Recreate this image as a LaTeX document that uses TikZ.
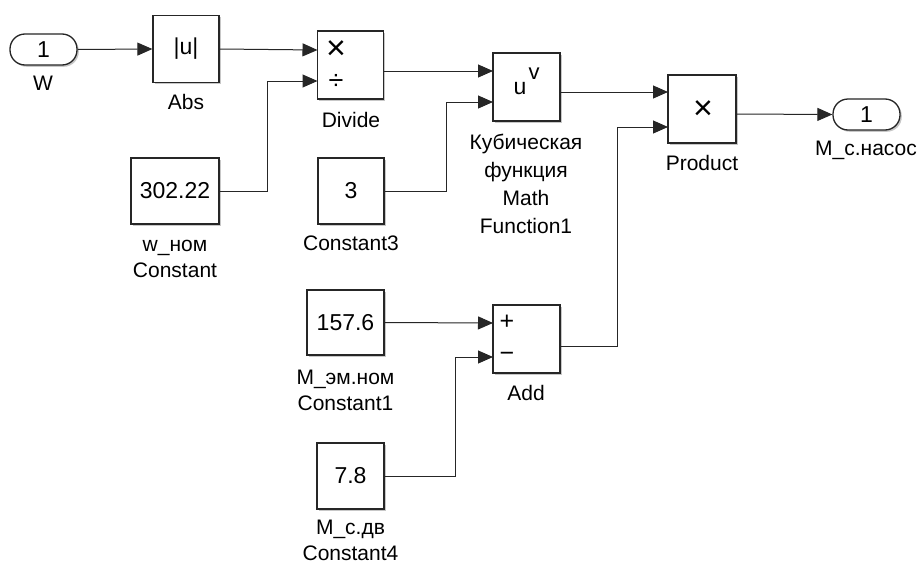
\documentclass[tikz,border=0pt]{standalone}
\usepackage{fontspec}
\setmainfont{Liberation Sans}
\usetikzlibrary{arrows.meta,shadows}
\begin{document}
\begin{tikzpicture}[x=1pt,y=-1pt,
  blk/.style={draw=black!85,line width=1.3pt,fill=white,inner sep=0pt,rectangle,
    drop shadow={shadow xshift=1.8pt,shadow yshift=-1.8pt,fill=black,opacity=0.22}},
  portblk/.style={blk,rounded corners=15pt,minimum width=67pt,minimum height=31pt},
  lbl/.style={font=\fontsize{21}{26}\selectfont,align=center,inner sep=0pt},
  val/.style={font=\fontsize{23}{26}\selectfont,inner sep=0pt},
  sym/.style={font=\fontsize{34}{36}\selectfont,inner sep=0pt},
  wire/.style={draw=black!85,line width=1pt},
  arr/.style={wire,-{Triangle[length=15pt,width=13pt]}}]
\useasboundingbox[fill=white] (0,0) rectangle (921,565);

% ---- blocks ----
\node[portblk,val] (in1) at (43.5,49.5) {1};
\node[blk,val,minimum width=66pt,minimum height=67pt] (abs) at (186,49) {|u|};
\node[blk,minimum width=66pt,minimum height=68pt] (div) at (350.5,65) {};
\node[blk,minimum width=67pt,minimum height=68pt] (mf) at (526.5,87) {};
\node[blk,minimum width=68pt,minimum height=68pt] (prod) at (702,109) {};
\node[portblk,val] (out1) at (866.5,114.5) {1};
\node[blk,val,minimum width=88pt,minimum height=66pt] (c302) at (175,191) {302.22};
\node[blk,val,minimum width=66pt,minimum height=66pt] (c3) at (351,191) {3};
\node[blk,val,minimum width=77pt,minimum height=65pt] (c157) at (345.5,322.5) {157.6};
\node[blk,minimum width=67pt,minimum height=68pt] (add) at (526.5,339) {};
\node[blk,val,minimum width=67pt,minimum height=66pt] (c78) at (350.5,476) {7.8};

% ---- block glyphs ----
\node[sym] (divx) at (336,50) {×};
\node[font=\fontsize{27}{30}\selectfont,inner sep=0pt] (divd) at (336,82) {÷};
\node[sym] (prodx) at (703,110) {×};
\node[val] (mfu) at (520,89) {u};
\node[font=\fontsize{22}{24}\selectfont,inner sep=0pt] (mfv) at (534,74) {v};
\node[font=\fontsize{25}{26}\selectfont,inner sep=0pt] (addp) at (507,322) {+};
\node[font=\fontsize{25}{26}\selectfont,inner sep=0pt] (addm) at (507,357) {−};

% ---- labels ----
\node[lbl] (lW) at (43,83) {W};
\node[lbl] (lAbs) at (186,102) {Abs};
\node[lbl] (lDiv) at (351,120) {Divide};
\node[lbl,font=\fontsize{21}{28}\selectfont] (lMf) at (526,184) {Кубическая\\функция\\Math\\Function1};
\node[lbl] (lProd) at (702,163) {Product};
\node[lbl] (lOut) at (866,150) {M\_с.насос};
\node[lbl] (lC302) at (175,259) {w\_ном\\Constant};
\node[lbl] (lC3) at (351,243) {Constant3};
\node[lbl] (lC157) at (345.5,390) {М\_эм.ном\\Constant1};
\node[lbl] (lAdd) at (526,393) {Add};
\node[lbl] (lC78) at (350.5,540) {М\_с.дв\\Constant4};

% ---- ports ----
\coordinate (divi1) at (317.5,50);
\coordinate (divi2) at (317.5,81);
\coordinate (divo) at (383.5,71);
\coordinate (mfi1) at (493,71);
\coordinate (mfi2) at (493,102);
\coordinate (mfo) at (560,92);
\coordinate (pri1) at (668,92);
\coordinate (pri2) at (668,127);
\coordinate (pro) at (736,114);
\coordinate (addi1) at (493,323);
\coordinate (addi2) at (493,357);
\coordinate (addo) at (560,346);

% ---- connectors ----
\draw[arr] (in1.east) -- (abs.west);
\draw[arr] (abs.east) -- (divi1);
\draw[arr] (c302.east) -- ++(48,0) |- (divi2);
\draw[arr] (divo) -- (mfi1);
\draw[arr] (c3.east) -- ++(62,0) |- (mfi2);
\draw[arr] (mfo) -- (pri1);
\draw[arr] (pro) -- (out1.west);
\draw[arr] (c157.east) -- (addi1);
\draw[arr] (c78.east) -- ++(71,0) |- (addi2);
\draw[arr] (addo) -- ++(57,0) |- (pri2);
\end{tikzpicture}
\end{document}
